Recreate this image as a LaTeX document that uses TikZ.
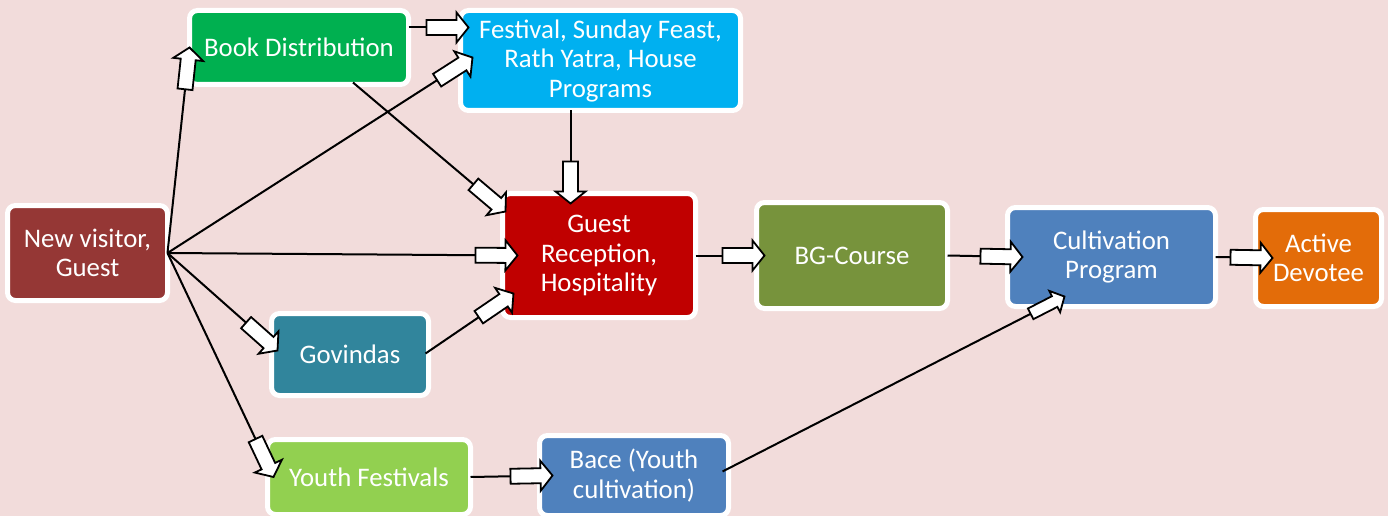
\documentclass[tikz,border=0pt]{standalone}
\usepackage{fontspec}
\setmainfont{Carlito}
\usetikzlibrary{calc,decorations.markings}
\definecolor{bgpink}{HTML}{F2DCDB}
\definecolor{cnv}{HTML}{953735}
\definecolor{cbd}{HTML}{00B050}
\definecolor{cfe}{HTML}{00B0F0}
\definecolor{cgr}{HTML}{C00000}
\definecolor{cbg}{HTML}{77933C}
\definecolor{ccp}{HTML}{4F81BD}
\definecolor{cad}{HTML}{E36C09}
\definecolor{cgo}{HTML}{31859C}
\definecolor{cyf}{HTML}{92D050}
\tikzset{
  box/.style={draw=white, line width=5pt, rounded corners=8pt, outer sep=0pt,
    inner sep=0pt, text=white, align=center,
    font=\fontsize{26.8}{29.5}\selectfont},
  blk/.style={draw=black, line width=2pt,
    decoration={markings, mark=at position 1 with {
      \draw[fill=white, line width=1.8pt, line join=miter]
        (0,0) -- (-12,15) -- (-12,7.5) -- (-42,7.5) -- (-42,-7.5)
        -- (-12,-7.5) -- (-12,-15) -- cycle;}},
    postaction={decorate}},
  blksmall/.style={draw=black, line width=2pt,
    decoration={markings, mark=at position 1 with {
      \draw[fill=white, line width=1.8pt, line join=miter]
        (0,0) -- (-11,12) -- (-11,6) -- (-38,6) -- (-38,-6)
        -- (-11,-6) -- (-11,-12) -- cycle;}},
    postaction={decorate}},
}
\begin{document}
\begin{tikzpicture}[x=1pt,y=-1pt]
\fill[bgpink] (0,0) rectangle (1388,516);
\useasboundingbox (0,0) rectangle (1388,516);

\node[box, fill=cnv, minimum width=160, minimum height=95] (nv) at (87.5,253) {New visitor,\\Guest};
\node[box, fill=cbd, minimum width=219, minimum height=74] (bd) at (299,47.5) {Book Distribution};
\node[box, fill=cfe, minimum width=280, minimum height=100] (fe) at (600.5,60.5) {Festival, Sunday Feast,\\Rath Yatra, House\\Programs};
\node[box, fill=cgr, minimum width=193, minimum height=124] (gr) at (599,255.5) {Guest\\Reception,\\Hospitality};
\node[box, fill=cbg, minimum width=191, minimum height=106] (bg) at (852,255.5) {BG-Course};
\node[box, fill=ccp, minimum width=208, minimum height=99] (cp) at (1111.5,257) {Cultivation\\Program};
\node[box, fill=cad, minimum width=126, minimum height=97] (ad) at (1318.5,258) {Active\\Devotee};
\node[box, fill=cgo, minimum width=157, minimum height=82] (go) at (350,354.5) {Govindas};
\node[box, fill=cyf, minimum width=203, minimum height=75] (yf) at (369,477) {Youth Festivals};
\node[box, fill=ccp, minimum width=189, minimum height=80] (bace) at (634,475.5) {Bace (Youth\\cultivation)};

\draw[blk] (nv.east) -- (bd.west);
\draw[blk] (nv.east) -- ($(fe.west)+(12,-3)$);
\draw[blk] (nv.east) -- ($(gr.west)+(15,0)$);
\draw[blk] (nv.east) -- ($(go.west)+(6,-4)$);
\draw[blk] (nv.east) -- ($(yf.west)+(6,0)$);
\draw[blk] ($(bd.south)+(54,-2)$) -- ($(gr.north west)+(3,18)$);
\draw[blk] ($(bd.east)+(0,-20)$) -- ($(fe.west)+(8,-33)$);
\draw[blk] ($(fe.south)+(-30,0)$) -- ($(gr.north)+(-28.5,10)$);
\draw[blk] (gr.east) -- ($(bg.west)+(8,0)$);
\draw[blk] ($(go.east)+(-3,-1)$) -- ($(gr.south west)+(11,-24)$);
\draw[blk] (bg.east) -- ($(cp.west)+(15,0)$);
\draw[blk] (cp.east) -- ($(ad.west)+(17,0)$);
\draw[blk] (yf.east) -- ($(bace.west)+(13,0)$);
\draw[blksmall] ($(bace.east)+(-6,-4)$) -- ($(cp.south)+(-47,-10)$);
\end{tikzpicture}
\end{document}
